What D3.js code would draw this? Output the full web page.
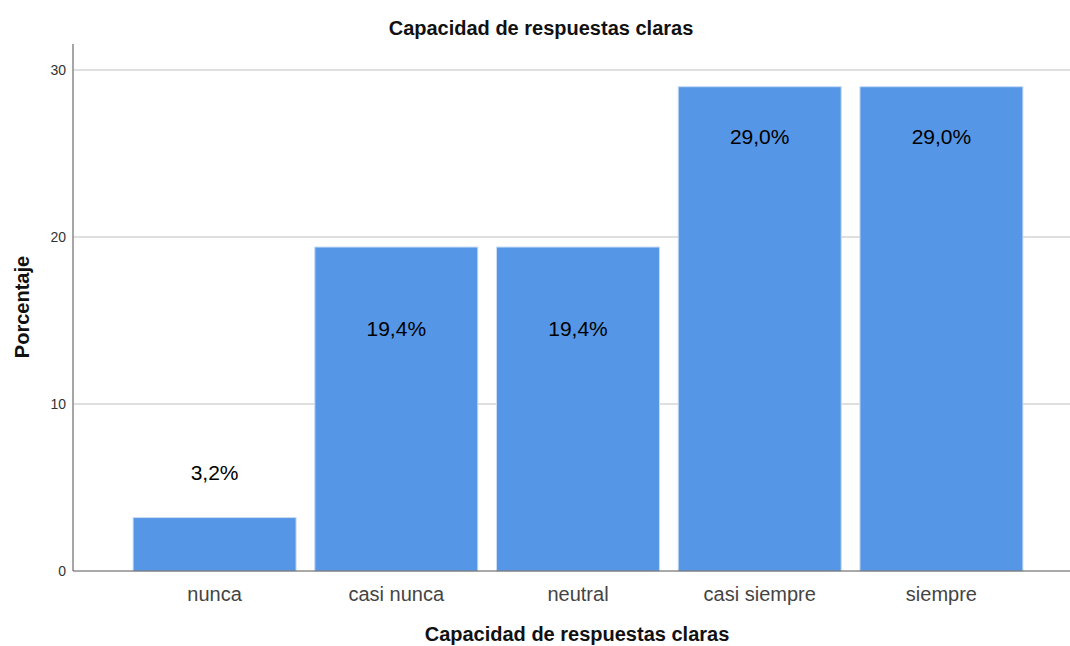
<!DOCTYPE html>
<html>
<head>
<meta charset="utf-8">
<script src="https://cdn.jsdelivr.net/npm/d3@7"></script>
<style>
	body { margin: 0; background: #fff; }
	svg text { font-family: "Liberation Sans", Arial, sans-serif; }
</style>
</head>
<body>
<svg id="chart" width="1070" height="646"></svg>
<script>
// data
var categories = ['nunca', 'casi nunca', 'neutral', 'casi siempre', 'siempre'];
var percents = [3.2, 19.4, 19.4, 29.0, 29.0];
var yTicks = [0, 10, 20, 30];
var chartTitle = 'Capacidad de respuestas claras';
var xTitle = 'Capacidad de respuestas claras';
var yTitle = 'Porcentaje';

var svg = d3.select('#chart');

var plotLeft = 73, plotRight = 1070, plotTop = 44, plotBottom = 571;

var x = d3.scaleBand()
	.domain(categories)
	.range([124, 1032])
	.paddingInner(0.103)
	.paddingOuter(0.05);

var y = d3.scaleLinear()
	.domain([0, 30])
	.range([plotBottom, 70]);

// gridlines
svg.append('g').selectAll('line')
	.data(yTicks.filter(d => d > 0))
	.enter().append('line')
	.attr('x1', plotLeft).attr('x2', plotRight)
	.attr('y1', d => y(d)).attr('y2', d => y(d))
	.attr('stroke', '#d4d4d4')
	.attr('stroke-width', 1.5);

// bars
svg.append('g').selectAll('rect')
	.data(percents)
	.enter().append('rect')
	.attr('x', (d, i) => x(categories[i]))
	.attr('width', x.bandwidth())
	.attr('y', d => y(d))
	.attr('height', d => y(0) - y(d))
	.attr('fill', '#5596e6')
	.attr('stroke', '#c9dcf5')
	.attr('stroke-width', 1);

// bar labels
svg.append('g').selectAll('text')
	.data(percents)
	.enter().append('text')
	.attr('x', (d, i) => x(categories[i]) + x.bandwidth() / 2)
	.attr('y', d => {
		if (d < 10) return y(d) - 45;
		if (d < 25) return y(d) + 82;
		return y(d) + 50;
	})
	.attr('dy', '0.35em')
	.attr('text-anchor', 'middle')
	.style('font-size', '21px')
	.attr('fill', '#000')
	.text(d => d3.format('.1f')(d).replace('.', ',') + '%');

// y axis line
svg.append('line')
	.attr('x1', plotLeft).attr('x2', plotLeft)
	.attr('y1', plotTop).attr('y2', plotBottom)
	.attr('stroke', '#888')
	.attr('stroke-width', 1.5);

// x axis line
svg.append('line')
	.attr('x1', plotLeft).attr('x2', plotRight)
	.attr('y1', plotBottom).attr('y2', plotBottom)
	.attr('stroke', '#555')
	.attr('stroke-width', 1);

// y tick labels
svg.append('g').selectAll('text')
	.data(yTicks)
	.enter().append('text')
	.attr('x', 66)
	.attr('y', d => y(d))
	.attr('dy', '0.35em')
	.attr('text-anchor', 'end')
	.style('font-size', '14px')
	.attr('fill', '#333')
	.text(d => d);

// category labels
svg.append('g').selectAll('text')
	.data(categories)
	.enter().append('text')
	.attr('x', d => x(d) + x.bandwidth() / 2)
	.attr('y', 594)
	.attr('dy', '0.35em')
	.attr('text-anchor', 'middle')
	.style('font-size', '20px')
	.attr('fill', '#444')
	.text(d => d);

// titles
svg.append('text')
	.attr('x', 541).attr('y', 28)
	.attr('dy', '0.35em')
	.attr('text-anchor', 'middle')
	.style('font-size', '20px')
	.style('font-weight', 'bold')
	.attr('fill', '#111')
	.text(chartTitle);

svg.append('text')
	.attr('x', 577).attr('y', 634)
	.attr('dy', '0.35em')
	.attr('text-anchor', 'middle')
	.style('font-size', '20px')
	.style('font-weight', 'bold')
	.attr('fill', '#111')
	.text(xTitle);

svg.append('text')
	.attr('transform', 'translate(22,307) rotate(-90)')
	.attr('dy', '0.35em')
	.attr('text-anchor', 'middle')
	.style('font-size', '20px')
	.style('font-weight', 'bold')
	.attr('fill', '#111')
	.text(yTitle);
</script>
</body>
</html>
